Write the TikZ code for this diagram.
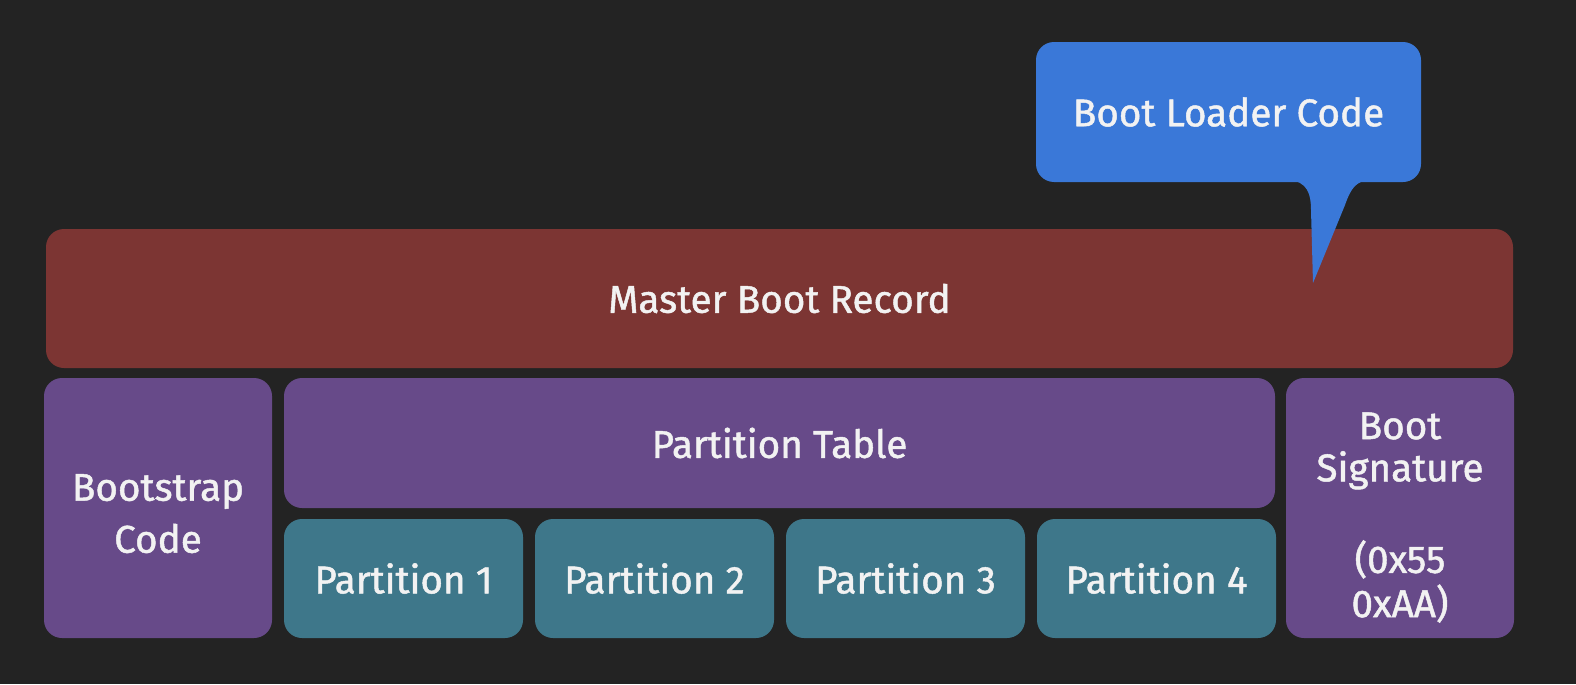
\documentclass[tikz,border=0pt]{standalone}
\usepackage{fontspec}
\setmainfont{Fira Sans}[FakeBold=1.2]
\usepackage{tikz}
\definecolor{bgcol}{RGB}{35,35,35}
\definecolor{mbrcol}{RGB}{124,53,51}
\definecolor{purcol}{RGB}{103,74,137}
\definecolor{tealcol}{RGB}{62,119,138}
\definecolor{bubcol}{RGB}{58,120,216}
\definecolor{txtcol}{RGB}{242,242,242}
\tikzset{>=latex,
  blk/.style={rounded corners=0.18cm, inner sep=0pt, text=txtcol, align=center,
    font=\fontsize{11}{12.6}\selectfont},
  mbr/.style={blk, fill=mbrcol, minimum width=14.67cm, minimum height=1.39cm},
  pur/.style={blk, fill=purcol},
  part/.style={blk, fill=tealcol, minimum width=2.39cm, minimum height=1.19cm},
  bubble/.style={blk, fill=bubcol, minimum width=3.85cm, minimum height=1.40cm}}

\begin{document}
\begin{tikzpicture}
                \useasboundingbox (0,0) rectangle (15.76,-6.84);
                \fill[bgcol] (0,0) rectangle (15.76,-6.84);
                \node[mbr] (mbr) at (7.795,-2.985) {Master Boot Record};
                \node[pur, minimum width=2.28cm, minimum height=2.60cm] (boots) at (1.58,-5.08)
                    {\raisebox{-2.8pt}[\height][\depth]{\begin{tabular}{@{}c@{}}Bootstrap\\[2.2pt]Code\end{tabular}}};
                \node[pur, minimum width=9.91cm, minimum height=1.30cm] (ptab) at (7.795,-4.43) {Partition Table};
                \foreach \i in {1,...,4}
                    \node[part] (p\i) at ({4.035+2.51*(\i-1)},-5.785) {Partition \i};
                \node[pur, minimum width=2.28cm, minimum height=2.60cm] (sig) at (14.00,-5.08)
                    {\raisebox{-3.2pt}[\height][\depth]{\begin{tabular}{@{}c@{}}Boot\\[-0.6pt]Signature\\[13pt](0x55\\[-0.5pt]0xAA)\end{tabular}}};
                \node[bubble] (loader) at (12.285,-1.12) {Boot Loader Code};
                \coordinate (tip) at (13.13,-2.83);
                \fill[bubcol] (12.88,-1.80) .. controls (13.08,-1.81) and (13.11,-1.95) .. (13.11,-2.10)
                    -- (tip) -- (13.45,-2.05) .. controls (13.51,-1.88) and (13.56,-1.81) .. (13.70,-1.80) -- cycle;
            \end{tikzpicture}
\end{document}
